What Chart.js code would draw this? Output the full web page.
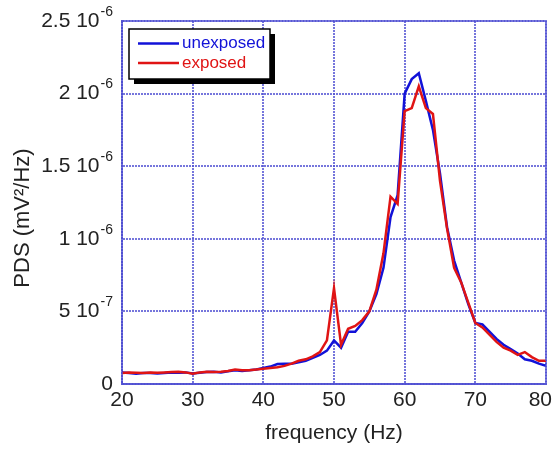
<!DOCTYPE html>
<html>
<head>
<meta charset="utf-8">
<script src="https://cdn.jsdelivr.net/npm/chart.js@4/dist/chart.umd.min.js"></script>
<style>
html,body{margin:0;padding:0;background:#fff;}
canvas{display:block;}
</style>
</head>
<body>
<canvas id="c" width="554" height="449"></canvas>
<script>
// ---- data (frequency in Hz, PDS in mV^2/Hz) ----
const frequency = [20,21,22,23,24,25,26,27,28,29,30,31,32,33,34,35,36,37,38,39,40,41,42,43,44,45,46,47,48,49,50,51,52,53,54,55,56,57,58,59,60,61,62,63,64,65,66,67,68,69,70,71,72,73,74,75,76,77,78,79,80];
// values in units of 1e-7
const unexposed = [0.8,0.75,0.7,0.75,0.75,0.72,0.75,0.8,0.78,0.8,0.72,0.78,0.82,0.85,0.8,0.88,0.95,0.9,0.95,1.0,1.1,1.2,1.38,1.4,1.4,1.5,1.6,1.8,2.0,2.3,3.0,2.5,3.6,3.6,4.2,5.0,6.2,8.0,11.5,13.0,20.0,21.0,21.4,19.5,17.5,14.5,10.8,8.5,7.0,5.5,4.2,4.1,3.6,3.1,2.7,2.4,2.1,1.7,1.6,1.4,1.25];
const exposed = [0.75,0.8,0.78,0.75,0.8,0.78,0.8,0.82,0.85,0.8,0.7,0.8,0.85,0.82,0.85,0.9,1.0,0.95,0.95,1.0,1.05,1.1,1.15,1.25,1.4,1.6,1.7,1.9,2.2,3.0,6.6,2.7,3.8,4.0,4.4,5.0,6.5,9.0,12.9,12.4,18.8,19.0,20.5,19.0,18.6,14.0,10.7,8.0,7.0,5.6,4.2,3.9,3.4,2.9,2.5,2.3,2.0,2.2,1.85,1.6,1.6];
const seriesLabels = ['unexposed','exposed'];
const xTicks = [20,30,40,50,60,70,80];
const yTickValues = [0,5e-7,1e-6,1.5e-6,2e-6,2.5e-6];
const yTickMantissa = ['0','5 10','1 10','1.5 10','2 10','2.5 10'];
const yTickExponent = ['','-7','-6','-6','-6','-6'];
const xTitle = 'frequency (Hz)';
const yTitle = 'PDS (mV\u00B2/Hz)';

const FONT = '"Liberation Sans", Arial, Helvetica, sans-serif';
const GRID = 'rgba(80,80,210,0.78)';
const BLUE = '#1212d8';
const RED = '#e01414';

const toXY = (vals) => vals.map((v,i)=>({x:frequency[i], y:v*1e-7}));

const customDraw = {
  id:'customDraw',
  afterDraw(chart){
    const ctx = chart.ctx;
    const ys = chart.scales.y;
    const xs = chart.scales.x;
    ctx.save();
    ctx.fillStyle = '#222';
    // x tick labels (last one kept inside the canvas)
    ctx.font = '21px ' + FONT;
    ctx.textBaseline = 'middle';
    ctx.textAlign = 'center';
    xTicks.forEach(v=>{
      const lab = String(v);
      const w = ctx.measureText(lab).width;
      let px = xs.getPixelForValue(v);
      px = Math.min(px, chart.width - 2 - w/2);
      ctx.fillText(lab, px, 400);
    });
    // y tick labels with superscript exponents
    const right = 113;
    yTickValues.forEach((v,i)=>{
      const py = ys.getPixelForValue(v);
      const exp = yTickExponent[i];
      ctx.font = '14px ' + FONT;
      const ew = exp ? ctx.measureText(exp).width : 0;
      ctx.textAlign = 'right';
      if (exp) ctx.fillText(exp, right, py - 9);
      ctx.font = '21px ' + FONT;
      ctx.fillText(yTickMantissa[i], right - ew - (exp?1:0), py);
    });
    // y title
    ctx.translate(23, 218);
    ctx.rotate(-Math.PI/2);
    ctx.font = '22px ' + FONT;
    ctx.textAlign = 'center';
    ctx.fillText(yTitle, 0, 0);
    ctx.restore();

    // legend box
    ctx.save();
    const lx = 129, ly = 29, lw = 141, lh = 50;
    ctx.fillStyle = '#000';
    ctx.fillRect(lx+5, ly+5, lw, lh);
    ctx.fillStyle = '#fff';
    ctx.fillRect(lx, ly, lw, lh);
    ctx.strokeStyle = '#000';
    ctx.lineWidth = 1.5;
    ctx.strokeRect(lx, ly, lw, lh);
    const colors = [BLUE, RED];
    const rows = [43.5, 63];
    ctx.font = '17px ' + FONT;
    ctx.textBaseline = 'middle';
    ctx.textAlign = 'left';
    seriesLabels.forEach((lab,i)=>{
      ctx.strokeStyle = colors[i];
      ctx.lineWidth = 2.5;
      ctx.beginPath();
      ctx.moveTo(138, rows[i]);
      ctx.lineTo(179, rows[i]);
      ctx.stroke();
      ctx.fillStyle = colors[i];
      ctx.fillText(lab, 182, rows[i]);
    });
    ctx.restore();
  }
};

new Chart(document.getElementById('c'), {
  type:'line',
  data:{
    datasets:[
      {label:seriesLabels[0], data:toXY(unexposed), borderColor:BLUE, borderWidth:2.5, pointRadius:0, tension:0, fill:false, order:2},
      {label:seriesLabels[1], data:toXY(exposed), borderColor:RED, borderWidth:2.5, pointRadius:0, tension:0, fill:false, order:1}
    ]
  },
  options:{
    responsive:false,
    animation:false,
    devicePixelRatio:1,
    layout:{padding:{top:21,right:8,left:0,bottom:0}},
    plugins:{legend:{display:false}, tooltip:{enabled:false}},
    scales:{
      x:{
        type:'linear', min:20, max:80,
        afterBuildTicks(s){ s.ticks = xTicks.map(v=>({value:v})); },
        afterFit(s){ s.height = 65; s.paddingLeft = 0; s.paddingRight = 0; },
        ticks:{display:false},
        grid:{color:GRID, lineWidth:2, drawTicks:false},
        border:{display:true, color:GRID, width:2, dash:[2,1]},
        title:{display:true, text:xTitle, font:{size:21, family:FONT}, color:'#222', padding:{top:0,bottom:3}}
      },
      y:{
        min:0, max:2.5e-6,
        afterBuildTicks(s){ s.ticks = yTickValues.map(v=>({value:v})); },
        afterFit(s){ s.width = 122; s.paddingTop = 0; s.paddingBottom = 0; },
        ticks:{display:false},
        grid:{color:GRID, lineWidth:2, drawTicks:false},
        border:{display:true, color:GRID, width:2, dash:[2,1]}
      }
    }
  },
  plugins:[customDraw, {
    id:'frame',
    afterDatasetsDraw(chart){
      const {ctx, chartArea:a} = chart;
      ctx.save();
      ctx.strokeStyle = GRID; ctx.lineWidth = 2; ctx.setLineDash([2,1]);
      ctx.strokeRect(a.left, a.top, a.right-a.left, a.bottom-a.top);
      ctx.restore();
    }
  }]
});
</script>
</body>
</html>
